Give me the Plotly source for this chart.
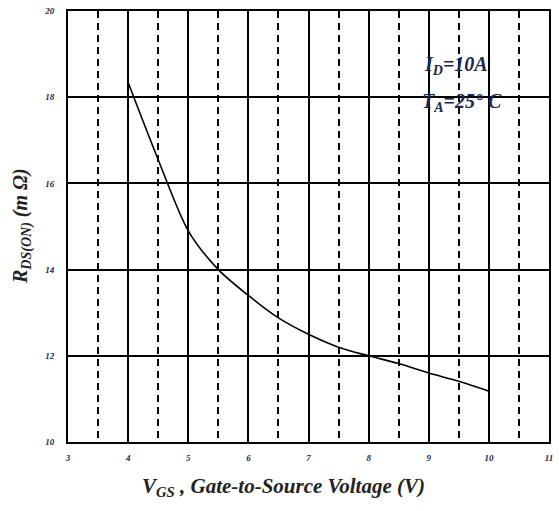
import plotly.graph_objects as go

vgs = [4.0, 4.5, 5.0, 5.5, 6.0, 6.5, 7.0, 7.5, 8.0, 8.5, 9.0, 9.5, 10.0]
rds = [18.34, 16.55, 14.9, 14.0, 13.4, 12.88, 12.5, 12.2, 12.0, 11.82, 11.6, 11.41, 11.18]

x_ticks = [3, 4, 5, 6, 7, 8, 9, 10, 11]
y_ticks = [10, 12, 14, 16, 18, 20]

serif = "Liberation Serif"
navy = "#1c2550"

fig = go.Figure()
fig.add_trace(go.Scatter(x=vgs, y=rds, mode="lines",
                         line=dict(color="black", width=1.6, shape="spline", smoothing=0.8),
                         showlegend=False, hoverinfo="skip"))

tickfont = dict(family=serif, size=9, color=navy, weight="bold", style="italic")

fig.update_layout(
    width=559, height=511,
    margin=dict(l=68, r=6, t=8, b=69),
    paper_bgcolor="white", plot_bgcolor="white",
    xaxis=dict(range=[3, 11], tickvals=x_ticks, ticktext=[str(v) for v in x_ticks],
               showgrid=True, gridcolor="black", gridwidth=1.5,
               showline=True, linecolor="black", linewidth=2, mirror=True,
               ticks="", tickfont=tickfont, ticklabelstandoff=6, zeroline=False,
               minor=dict(dtick=0.5, tick0=3.5, showgrid=True, gridcolor="black", gridwidth=1.5,
                          griddash="7px,5px")),
    yaxis=dict(range=[10, 20], tickvals=y_ticks, ticktext=[str(v) for v in y_ticks],
               showgrid=True, gridcolor="black", gridwidth=1.5,
               showline=True, linecolor="black", linewidth=2, mirror=True,
               ticks="", tickfont=tickfont, ticklabelstandoff=10, zeroline=False),
)

fig.add_annotation(xref="paper", yref="paper", x=0.447, y=-0.1,
                   text="<b><i>V<sub>GS</sub> , Gate-to-Source Voltage (V)</i></b>",
                   showarrow=False, font=dict(family=serif, size=21, color="#222222"),
                   xanchor="center", yanchor="middle", yshift=-2)
fig.add_annotation(xref="paper", yref="paper", x=-0.097, y=0.502, textangle=-90,
                   text="<b><i>R<sub>DS(ON)</sub> (m \u03a9)</i></b>",
                   showarrow=False, font=dict(family=serif, size=20, color="#222222"),
                   xanchor="center", yanchor="middle")
fig.add_annotation(x=9.45, y=18.74, text="<b><i>I<sub>D</sub>=10A</i></b>", showarrow=False,
                   font=dict(family=serif, size=20, color=navy), xanchor="center", yanchor="middle")
fig.add_annotation(x=9.55, y=17.88, text="<b><i>T<sub>A</sub>=25\u00b0 C</i></b>", showarrow=False,
                   font=dict(family=serif, size=20, color=navy), xanchor="center", yanchor="middle")

fig.write_html("out.html")
